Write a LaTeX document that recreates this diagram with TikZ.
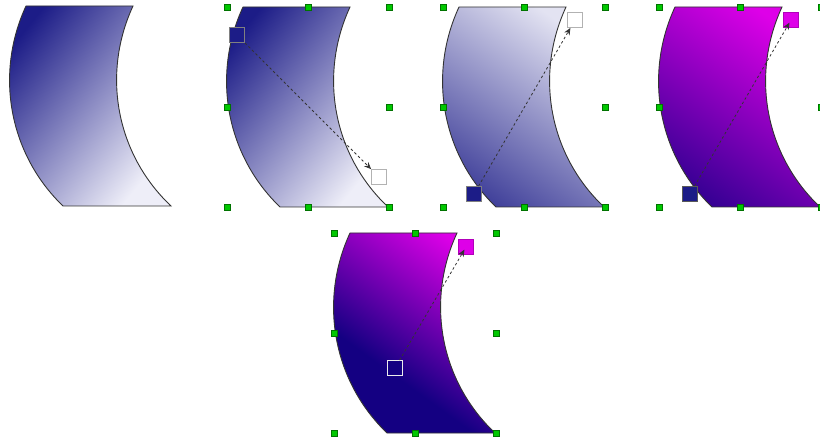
\documentclass[tikz,border=0pt]{standalone}
\usepackage{tikz}
\usetikzlibrary{arrows.meta}

% 弯曲带形轮廓（局部坐标：宽 162，高 200，y 向下）
\newcommand{\bandpath}{(16,0) -- (123,0) .. controls (91.5,68) and (106,148) .. (161,200)
  -- (53,200) .. controls (-1,148) and (-15.5,68) .. cycle}

\definecolor{navyA}{RGB}{28,28,135}
\definecolor{lavA}{RGB}{238,238,248}
\definecolor{navyB}{RGB}{20,0,130}
\definecolor{magB}{RGB}{222,0,232}
\definecolor{handleG}{RGB}{0,200,0}

% 第五个形状：渐变从中部开始
\pgfdeclareverticalshading{bandfive}{100bp}{color(0bp)=(navyB); color(39bp)=(navyB);
  color(77bp)=(magB); color(100bp)=(magB)}

\begin{document}
\begin{tikzpicture}[
        x=1pt, y=-1pt,
        % 带形轮廓样式
        band/.style={
            draw=black!80,
            line width=0.9pt
        },
        % 绿色选择手柄
        handle/.style={
            rectangle,
            draw=black!55!green,
            fill=handleG,
            line width=0.7pt,
            minimum size=6pt,
            inner sep=0pt
        },
        % 渐变起止方块
        gstop/.style={
            rectangle,
            draw=#1,
            line width=0.8pt,
            minimum size=15pt,
            inner sep=0pt
        },
        % 虚线箭头
        garrow/.style={
            -{Stealth[length=7pt, width=6pt]},
            dash pattern=on 2.5pt off 2.5pt,
            line width=0.8pt,
            draw=black!80
        }
    ]

    \useasboundingbox (0,0) rectangle (820,441);
    \clip (0,0) rectangle (820,441);

    % ================= 1. 原始形状 =================
    \begin{scope}[shift={(10,6)}]
        \draw[band, top color=navyA, bottom color=lavA, shading angle=51] \bandpath;
    \end{scope}

    % ================= 2. 编辑渐变（默认方向） =================
    \begin{scope}[shift={(227,7)}]
        \draw[band, top color=navyA, bottom color=lavA, shading angle=51] \bandpath;
        \node[gstop=gray, fill=navyA] (s2) at (10,28) {};
        \node[gstop=gray!60, fill=white] (e2) at (152,170) {};
        \draw[garrow] (s2) -- (e2);
        \foreach \hx/\hy [count=\i] in {0/0,81/0,162/0,0/100,162/100,0/200,81/200,162/200}
            \node[handle] (h2-\i) at (\hx,\hy) {};
    \end{scope}

    % ================= 3. 反转方向 =================
    \begin{scope}[shift={(443,7)}]
        \draw[band, top color=lavA!95!navyA, bottom color=navyA!85!white, shading angle=-35] \bandpath;
        \node[gstop=gray, fill=navyA] (s3) at (31,187) {};
        \node[gstop=gray!60, fill=white] (e3) at (132,13) {};
        \draw[garrow] (s3) -- (e3);
        \foreach \hx/\hy [count=\i] in {0/0,81/0,162/0,0/100,162/100,0/200,81/200,162/200}
            \node[handle] (h3-\i) at (\hx,\hy) {};
    \end{scope}

    % ================= 4. 更改终点颜色 =================
    \begin{scope}[shift={(659,7)}]
        \draw[band, top color=magB, bottom color=navyB!85!magB, shading angle=-35] \bandpath;
        \node[gstop=gray!70!black, fill=navyA] (s4) at (31,187) {};
        \node[gstop=magB!80!black, fill=magB] (e4) at (132,13) {};
        \draw[garrow, shorten >=3pt] (s4) -- (e4.center);
        \foreach \hx/\hy [count=\i] in {0/0,81/0,162/0,0/100,162/100,0/200,81/200,162/200}
            \node[handle] (h4-\i) at (\hx,\hy) {};
    \end{scope}

    % ================= 5. 移动起点 =================
    \begin{scope}[shift={(334,233)}]
        \draw[band, shade, shading=bandfive, shading angle=-36] \bandpath;
        \node[gstop=white!85!gray, fill=navyB] (s5) at (61,135) {};
        \node[gstop=magB!80!black, fill=magB] (e5) at (132,14) {};
        \draw[garrow, shorten >=3pt] (s5) -- (e5.center);
        \foreach \hx/\hy [count=\i] in {0/0,81/0,162/0,0/100,162/100,0/200,81/200,162/200}
            \node[handle] (h5-\i) at (\hx,\hy) {};
    \end{scope}

\end{tikzpicture}
\end{document}
